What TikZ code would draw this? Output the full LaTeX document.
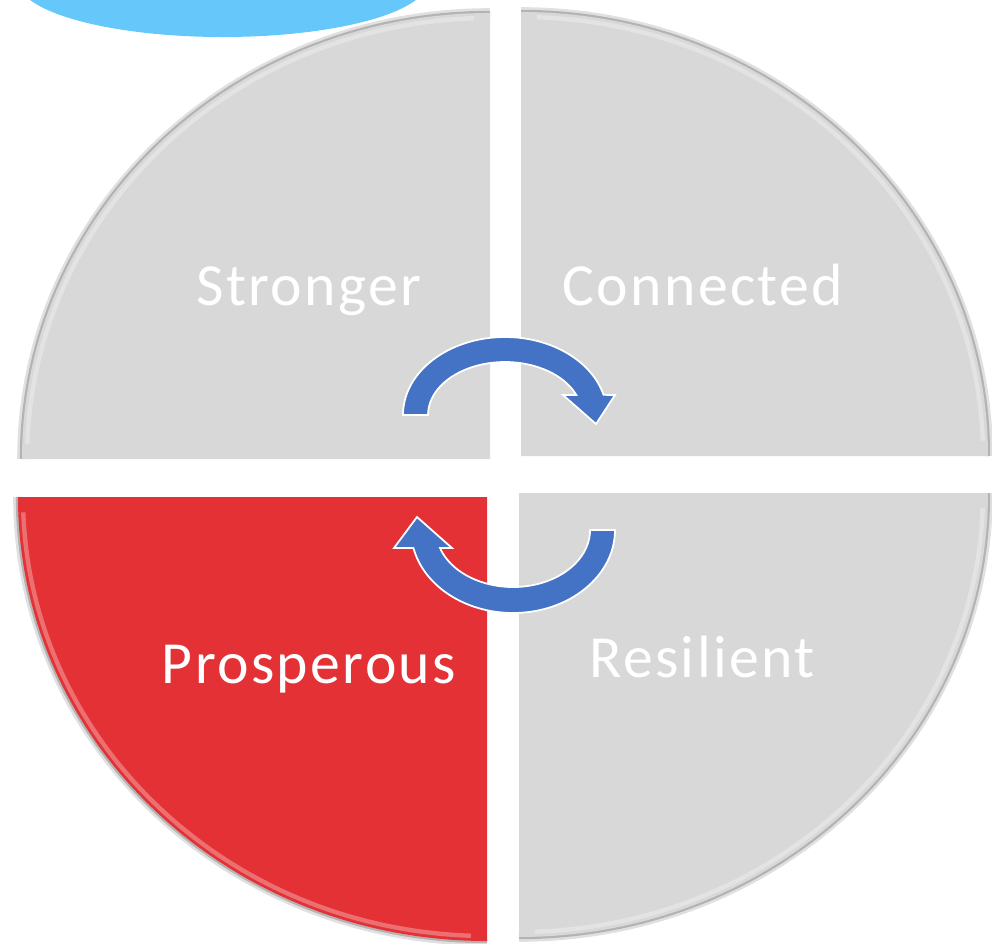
\documentclass[tikz,border=0pt]{standalone}
\usepackage{fontspec}
\newfontfamily\quadfont[LetterSpace=4]{Carlito}
\usetikzlibrary{positioning}

\definecolor{quadgray}{RGB}{216,216,216}
\definecolor{quadred}{RGB}{228,49,53}
\definecolor{cycleblue}{RGB}{68,114,196}
\definecolor{skyblue}{RGB}{102,199,250}

\tikzset{
    quad/.style={fill=quadgray},
    softshadow/.style={draw=black, opacity=0.12, line width=5.5pt},
    hardshadow/.style={draw=black, opacity=0.2, line width=2.5pt},
    bevel/.style={draw=white, opacity=0.3, line width=2.5pt},
    cyclearrow/.style={fill=cycleblue, draw=white, line width=1pt, line join=miter},
    quadlabel/.style={text=white, anchor=base, inner sep=0pt,
        font=\quadfont\fontsize{34}{40}\selectfont}
}

\begin{document}
\begin{tikzpicture}[x=0.02cm, y=-0.02cm]
    \useasboundingbox (0,0) rectangle (992,944);
    \clip (0,0) rectangle (992,944);

    \fill[skyblue] (223,-19) ellipse[x radius=205, y radius=56];

    % shadows under the outer edges
    \draw[softshadow] (490,459) +(180:468 and 446) arc[start angle=180, end angle=270, x radius=468, y radius=446];
    \draw[softshadow] (521,456) +(270:467 and 444) arc[start angle=270, end angle=360, x radius=467, y radius=444];
    \draw[softshadow] (487,497) +(180:469 and 444) arc[start angle=180, end angle=90, x radius=469, y radius=444];
    \draw[softshadow] (519,493) +(0:469 and 444) arc[start angle=0, end angle=90, x radius=469, y radius=444];
    \draw[hardshadow] (490,459) +(180:468 and 446) arc[start angle=180, end angle=270, x radius=468, y radius=446];
    \draw[hardshadow] (521,456) +(270:467 and 444) arc[start angle=270, end angle=360, x radius=467, y radius=444];
    \draw[hardshadow] (487,497) +(180:469 and 444) arc[start angle=180, end angle=90, x radius=469, y radius=444];
    \draw[hardshadow] (519,493) +(0:469 and 444) arc[start angle=0, end angle=90, x radius=469, y radius=444];

    % the four quarters
    \fill[quad] (490,459) -- +(180:468 and 446) arc[start angle=180, end angle=270, x radius=468, y radius=446] -- cycle;
    \fill[quad] (521,456) -- +(270:467 and 444) arc[start angle=270, end angle=360, x radius=467, y radius=444] -- cycle;
    \fill[quad, fill=quadred] (487,497) -- +(180:469 and 444) arc[start angle=180, end angle=90, x radius=469, y radius=444] -- cycle;
    \fill[quad] (519,493) -- +(0:469 and 444) arc[start angle=0, end angle=90, x radius=469, y radius=444] -- cycle;

    \draw[bevel] (490,459) +(182:463 and 441) arc[start angle=182, end angle=268, x radius=463, y radius=441];
    \draw[bevel] (521,456) +(272:462 and 439) arc[start angle=272, end angle=358, x radius=462, y radius=439];
    \draw[bevel] (487,497) +(178:464 and 439) arc[start angle=178, end angle=92, x radius=464, y radius=439];
    \draw[bevel] (519,493) +(2:464 and 439) arc[start angle=2, end angle=88, x radius=464, y radius=439];

    \node[quadlabel] (stronger) at (309,305) {Stronger};
    \node[quadlabel] (connected) at (703,305) {Connected};
    \node[quadlabel] (prosperous) at (309,683) {Prosperous};
    \node[quadlabel] (resilient) at (702,677) {Resilient};

    % cycle arrows
    \filldraw[cyclearrow] (505,415) +(180:102 and 78)
        arc[start angle=180, end angle=345, x radius=102, y radius=78]
        -- (615,395) -- (596,424) -- (563,395) -- (576.3,395)
        arc[start angle=337.8, end angle=180, x radius=77, y radius=53] -- cycle;
    \filldraw[cyclearrow] (513,530) +(0:102 and 83)
        arc[start angle=0, end angle=167.5, x radius=102, y radius=83]
        -- (394,548) -- (417,517) -- (452,548) -- (440,548)
        arc[start angle=161.6, end angle=0, x radius=77, y radius=57] -- cycle;
\end{tikzpicture}
\end{document}
